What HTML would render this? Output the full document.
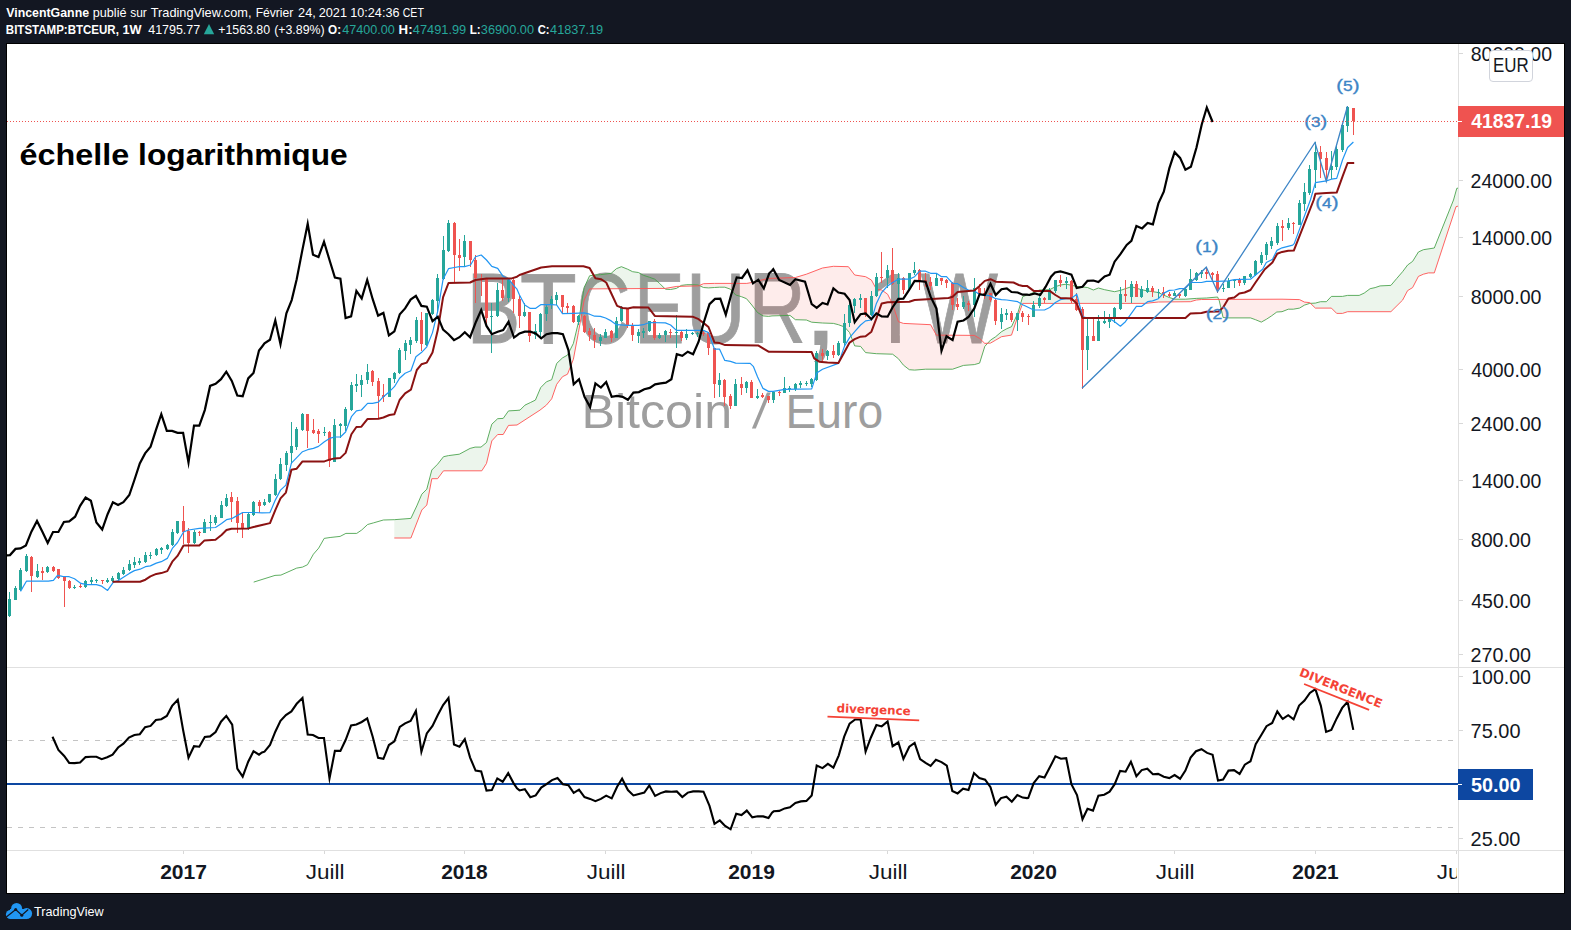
<!DOCTYPE html>
<html lang="fr"><head><meta charset="utf-8"><title>BTCEUR 1W</title>
<style>
html,body{margin:0;padding:0;background:#131722;}
body{width:1571px;height:930px;overflow:hidden;position:relative;font-family:'Liberation Sans', sans-serif;}
svg{position:absolute;left:0;top:0;display:block;}
text{font-family:'Liberation Sans', sans-serif;}
.dv{font-family:'DejaVu Sans','Liberation Sans',sans-serif;font-weight:bold;}
</style></head><body>
<svg width="1571" height="930" viewBox="0 0 1571 930">
<rect x="0" y="0" width="1571" height="930" fill="#131722"/>
<rect x="6" y="43" width="1559" height="851" fill="#000"/>
<rect x="7" y="44" width="1557" height="849" fill="#fff"/>
<!-- header -->
<text transform="translate(6.22,16.80) scale(0.9888,1.0000)" font-size="12.5" font-weight="bold" fill="#fff">VincentGanne </text><text transform="translate(92.78,16.80) scale(1.0125,1.0000)" font-size="12.5" fill="#fff">publié </text><text transform="translate(130.17,16.80) scale(0.9578,1.0000)" font-size="12.5" fill="#fff">sur </text><text transform="translate(150.71,16.80) scale(1.0220,1.0000)" font-size="12.5" fill="#fff">TradingView.com, </text><text transform="translate(255.71,16.80) scale(0.9666,1.0000)" font-size="12.5" fill="#fff">Février </text><text transform="translate(298.06,16.80) scale(1.0176,1.0000)" font-size="12.5" fill="#fff">24, </text><text transform="translate(318.66,16.80) scale(1.0200,1.0000)" font-size="12.5" fill="#fff">2021 </text><text transform="translate(350.34,16.80) scale(1.0094,1.0000)" font-size="12.5" fill="#fff">10:24:36 </text><text transform="translate(402.76,16.80) scale(0.8431,1.0000)" font-size="12.5" fill="#fff">CET </text><text transform="translate(5.83,34.00) scale(0.9218,1.0000)" font-size="12.5" font-weight="bold" fill="#fff">BITSTAMP:BTCEUR, </text><text transform="translate(122.40,34.00) scale(1.0195,1.0000)" font-size="12.5" font-weight="bold" fill="#fff">1W </text><text transform="translate(148.21,34.00) scale(0.9976,1.0000)" font-size="12.5" fill="#fff">41795.77 </text><polygon points="203.8,34.2 214.2,34.2 209,24" fill="#26a69a"/><text transform="translate(218.30,34.00) scale(0.9886,1.0000)" font-size="12.5" fill="#fff">+1563.80 </text><text transform="translate(274.13,34.00) scale(0.9895,1.0000)" font-size="12.5" fill="#fff">(+3.89%) </text><text transform="translate(328.12,34.00) scale(0.9367,1.0000)" font-size="12.5" font-weight="bold" fill="#fff">O: </text><text transform="translate(342.31,34.00) scale(1.0085,1.0000)" font-size="12.5" fill="#26a69a">47400.00 </text><text transform="translate(398.62,34.00) scale(1.0582,1.0000)" font-size="12.5" font-weight="bold" fill="#fff">H: </text><text transform="translate(412.81,34.00) scale(1.0242,1.0000)" font-size="12.5" fill="#26a69a">47491.99 </text><text transform="translate(469.72,34.00) scale(0.9324,1.0000)" font-size="12.5" font-weight="bold" fill="#fff">L: </text><text transform="translate(480.81,34.00) scale(1.0220,1.0000)" font-size="12.5" fill="#26a69a">36900.00 </text><text transform="translate(537.74,34.00) scale(0.8976,1.0000)" font-size="12.5" font-weight="bold" fill="#fff">C: </text><text transform="translate(550.11,34.00) scale(1.0184,1.0000)" font-size="12.5" fill="#26a69a">41837.19 </text>
<defs>
<clipPath id="c1"><path d="M870,260 H906 V334.01 H899.90 V350 H891.03 V334.01 H870 Z"/></clipPath><clipPath id="mp"><rect x="7" y="44" width="1451" height="623"/></clipPath>
<clipPath id="rp"><rect x="7" y="668" width="1451" height="182"/></clipPath>
</defs>
<!-- main pane -->
<g clip-path="url(#mp)">
<text transform="translate(466.46,342.60) scale(0.8139,1.0000)" font-size="99.5" fill="#9e9e9e" stroke="#9e9e9e" stroke-width="0.8">B</text><text transform="translate(519.80,342.60) scale(0.9403,1.0000)" font-size="99.5" fill="#9e9e9e" stroke="#9e9e9e" stroke-width="0.8">T</text><text transform="translate(576.82,342.60) scale(0.7475,1.0000)" font-size="99.5" fill="#9e9e9e" stroke="#9e9e9e" stroke-width="0.8">C</text><text transform="translate(634.08,342.60) scale(0.7621,1.0000)" font-size="99.5" fill="#9e9e9e" stroke="#9e9e9e" stroke-width="0.8">E</text><text transform="translate(685.69,342.60) scale(0.8354,1.0000)" font-size="99.5" fill="#9e9e9e" stroke="#9e9e9e" stroke-width="0.8">U</text><text transform="translate(748.59,342.60) scale(0.7972,1.0000)" font-size="99.5" fill="#9e9e9e" stroke="#9e9e9e" stroke-width="0.8">R</text><text transform="translate(801.63,344.81) scale(1.3722,1.3351)" font-size="99.5" fill="#9e9e9e">, </text><g clip-path="url(#c1)"><text transform="translate(866.01,342.6) scale(1.0000,1)" font-size="99.5" fill="#9e9e9e">1</text></g><text transform="translate(920.84,342.60) scale(0.8225,1.0000)" font-size="99.5" fill="#9e9e9e" stroke="#9e9e9e" stroke-width="0.8">W</text>
<text transform="translate(581.48,427.80) scale(1.0238,1.0000)" font-size="49" fill="#9e9e9e">Bitcoin </text><text transform="translate(751.9,427.8) skewX(-8.20)" font-size="49" fill="#9e9e9e">/ </text><text transform="translate(785.51,427.80) scale(0.9433,1.0000)" font-size="49" fill="#9e9e9e">Euro</text>
<polygon points="394.3,519.7 410.9,518.4 416.8,505.9 421.8,494.2 426.8,489.2 431.8,470.0 437.6,464.2 437.6,464.2 443.5,456.7 443.5,456.7 448.5,455.6 459.3,454.2 470.1,448.4 475.1,447.1 481.0,447.1 481.8,446.4 486.5,442.5 491.8,424.2 497.7,418.7 503.2,418.4 508.5,410.9 517.0,410.4 520.0,410.1 525.0,405.1 530.3,402.6 535.4,400.1 540.0,389.2 540.7,387.6 546.4,381.8 551.7,379.7 556.7,363.4 562.5,357.9 567.5,355.1 573.4,343.4 578.4,322.5 584.2,287.5 589.6,275.8 594.6,275.0 600.4,274.7 611.2,273.3 616.4,268.7 621.4,266.7 627.6,269.2 632.6,271.7 638.4,272.5 643.4,275.3 649.3,277.2 654.8,279.2 659.6,283.4 664.6,288.4 664.6,288.4 659.6,288.4 654.8,288.4 649.3,288.5 643.4,288.5 638.4,288.5 632.6,288.6 627.6,288.6 621.4,288.6 616.4,288.7 611.2,288.7 600.4,288.8 594.6,288.8 589.6,288.9 584.2,300.0 578.4,332.6 573.4,359.2 567.5,374.2 562.5,376.7 556.7,384.3 551.7,398.8 546.4,405.1 540.7,409.6 540.0,410.1 535.4,413.1 530.3,416.4 525.0,419.8 520.0,423.1 517.0,425.0 508.5,425.4 503.2,434.5 497.7,434.5 491.8,440.9 486.5,463.4 481.8,470.8 481.0,470.8 475.1,470.8 470.1,470.8 459.3,470.8 448.5,470.8 443.5,470.8 443.5,470.8 437.6,478.7 437.6,478.7 431.8,478.7 426.8,505.0 421.8,510.0 416.8,523.0 410.9,538.0 394.3,538.0" fill="rgba(67,160,71,0.10)"/>
<polygon points="664.6,288.4 665.4,289.2 670.6,289.5 676.4,288.4 676.8,288.2 679.9,286.3 679.9,286.3 676.8,286.4 676.4,286.4 670.6,287.4 665.4,288.4 664.6,288.4" fill="rgba(244,67,54,0.10)"/>
<polygon points="679.9,286.3 681.4,285.4 686.8,284.7 692.6,284.7 698.1,285.0 698.5,285.2 699.2,285.5 699.2,285.5 698.5,285.9 698.1,285.9 692.6,286.0 686.8,286.1 681.4,286.2 679.9,286.3" fill="rgba(67,160,71,0.10)"/>
<polygon points="699.2,285.5 703.5,287.5 708.5,287.9 714.5,287.5 719.6,287.2 724.8,287.2 730.5,289.2 735.7,295.0 741.5,296.7 746.5,298.7 746.8,299.1 751.8,305.0 757.5,312.5 763.0,315.9 768.5,316.4 772.0,315.9 790.0,315.4 795.4,319.7 806.4,320.0 811.7,322.2 822.5,323.0 833.4,323.4 838.4,324.7 844.6,327.0 848.4,331.3 849.6,332.6 854.7,345.9 860.6,346.4 865.6,352.6 871.4,353.2 876.4,353.7 881.7,353.9 887.6,354.1 892.6,354.2 898.4,358.7 903.4,365.1 909.3,369.7 914.6,370.1 925.6,369.2 930.6,369.2 936.4,369.2 952.6,369.2 963.5,365.4 974.3,364.6 979.6,363.1 984.8,346.4 987.6,343.2 987.6,343.2 984.8,343.4 979.6,338.4 974.3,335.4 963.5,335.3 952.6,335.2 936.4,335.1 930.6,324.7 925.6,324.5 914.6,323.9 909.3,323.7 903.4,323.4 898.4,321.7 892.6,304.2 887.6,294.2 881.7,290.0 876.4,289.2 871.4,280.0 865.6,276.7 860.6,275.9 854.7,275.0 849.6,268.2 848.4,266.7 844.6,266.6 838.4,266.5 833.4,266.3 822.5,268.0 811.7,272.1 806.4,274.2 795.4,277.5 790.0,277.7 772.0,278.3 768.5,278.3 763.0,279.7 757.5,280.9 751.8,282.5 746.8,283.4 746.5,283.4 741.5,283.4 735.7,283.4 730.5,283.4 724.8,283.4 719.6,283.4 714.5,283.4 708.5,283.5 703.5,283.7 699.2,285.5" fill="rgba(244,67,54,0.10)"/>
<polygon points="987.6,343.2 990.5,340.1 995.7,336.7 1001.5,331.7 1006.8,328.7 1011.5,326.7 1017.7,313.4 1022.7,296.7 1027.0,295.0 1028.3,294.7 1039.5,290.0 1049.7,289.7 1055.4,286.7 1060.4,285.0 1066.2,284.2 1076.7,286.4 1087.5,287.5 1093.4,290.0 1098.4,288.0 1104.6,289.7 1114.6,291.7 1120.4,290.4 1131.4,286.7 1141.4,289.7 1145.1,290.4 1147.6,290.9 1152.6,291.7 1158.4,292.5 1163.4,295.0 1169.3,297.5 1174.6,299.2 1185.4,299.2 1190.4,298.8 1196.3,298.4 1201.5,298.2 1206.5,298.0 1217.6,297.0 1218.7,299.5 1218.7,299.5 1217.6,299.5 1206.5,299.5 1201.5,299.5 1196.3,300.0 1190.4,301.7 1185.4,301.8 1174.6,301.9 1169.3,301.9 1163.4,302.0 1158.4,302.0 1152.6,302.6 1147.6,303.1 1145.1,303.4 1141.4,303.4 1131.4,303.4 1120.4,303.4 1114.6,303.4 1104.6,303.4 1098.4,303.4 1093.4,303.4 1087.5,303.4 1076.7,303.4 1066.2,303.4 1060.4,303.4 1055.4,303.4 1049.7,303.4 1039.5,303.4 1028.3,303.4 1027.0,303.4 1022.7,303.4 1017.7,316.7 1011.5,335.1 1006.8,335.8 1001.5,336.7 995.7,340.1 990.5,343.1 987.6,343.2" fill="rgba(67,160,71,0.10)"/>
<polygon points="1218.7,299.5 1219.3,300.9 1223.1,317.5 1228.5,317.9 1250.5,317.9 1255.5,319.7 1261.3,322.1 1266.5,319.2 1271.5,315.9 1276.8,312.0 1282.0,311.7 1288.3,309.2 1293.3,309.2 1299.5,308.1 1304.5,305.1 1309.7,303.4 1310.5,303.4 1310.5,303.4 1309.7,302.6 1304.5,302.1 1299.5,299.6 1293.3,299.4 1288.3,299.3 1282.0,299.2 1276.8,299.2 1271.5,299.2 1266.5,299.3 1261.3,299.3 1255.5,299.3 1250.5,299.3 1228.5,299.4 1223.1,299.4 1219.3,299.5 1218.7,299.5" fill="rgba(244,67,54,0.10)"/>
<polygon points="1310.5,303.4 1315.4,303.1 1320.5,301.7 1326.4,301.7 1331.4,296.4 1336.7,296.4 1342.5,296.4 1347.6,295.4 1359.2,295.4 1364.2,293.1 1370.1,288.7 1375.1,287.6 1380.1,285.9 1390.9,285.4 1396.8,278.4 1402.6,271.7 1407.6,265.0 1412.6,261.4 1418.4,252.0 1423.4,249.7 1428.4,248.9 1434.3,248.0 1453.5,200.0 1456.0,191.2 1456.8,188.3 1459.1,188.0 1459.1,205.8 1456.8,206.5 1456.0,206.7 1453.5,214.3 1434.3,272.9 1428.4,272.9 1423.4,274.2 1418.4,276.4 1412.6,287.6 1407.6,290.6 1402.6,300.1 1396.8,305.9 1390.9,311.7 1380.1,311.7 1375.1,311.7 1370.1,311.7 1364.2,311.7 1359.2,311.7 1347.6,311.7 1342.5,313.4 1336.7,313.4 1331.4,308.1 1326.4,308.1 1320.5,308.1 1315.4,308.1 1310.5,303.4" fill="rgba(67,160,71,0.10)"/>
<polyline points="253.7,582.1 275.0,575.4 280.9,575.1 296.7,568.1 302.5,567.1 307.5,564.7 313.4,554.2 318.7,548.1 324.2,538.4 330.1,537.5 340.1,536.4 345.9,533.4 356.7,533.4 361.7,530.0 367.6,524.5 373.4,522.9 383.4,520.0 394.3,519.7 410.9,518.4 416.8,505.9 421.8,494.2 426.8,489.2 431.8,470.0 437.6,464.2 443.5,456.7 448.5,455.6 459.3,454.2 470.1,448.4 475.1,447.1 481.0,447.1 486.5,442.5 491.8,424.2 497.7,418.7 503.2,418.4 508.5,410.9 517.0,410.4 520.0,410.1 525.0,405.1 530.3,402.6 535.4,400.1 540.7,387.6 546.4,381.8 551.7,379.7 556.7,363.4 562.5,357.9 567.5,355.1 573.4,343.4 578.4,322.5 584.2,287.5 589.6,275.8 594.6,275.0 600.4,274.7 611.2,273.3 616.4,268.7 621.4,266.7 627.6,269.2 632.6,271.7 638.4,272.5 643.4,275.3 649.3,277.2 654.8,279.2 659.6,283.4 665.4,289.2 670.6,289.5 676.4,288.4 681.4,285.4 686.8,284.7 692.6,284.7 698.1,285.0 703.5,287.5 708.5,287.9 714.5,287.5 719.6,287.2 724.8,287.2 730.5,289.2 735.7,295.0 741.5,296.7 746.5,298.7 751.8,305.0 757.5,312.5 763.0,315.9 768.5,316.4 772.0,315.9 790.0,315.4 795.4,319.7 806.4,320.0 811.7,322.2 822.5,323.0 833.4,323.4 838.4,324.7 844.6,327.0 849.6,332.6 854.7,345.9 860.6,346.4 865.6,352.6 876.4,353.7 892.6,354.2 898.4,358.7 903.4,365.1 909.3,369.7 914.6,370.1 925.6,369.2 952.6,369.2 963.5,365.4 974.3,364.6 979.6,363.1 984.8,346.4 990.5,340.1 995.7,336.7 1001.5,331.7 1006.8,328.7 1011.5,326.7 1017.7,313.4 1022.7,296.7 1027.0,295.0 1028.3,294.7 1039.5,290.0 1049.7,289.7 1055.4,286.7 1060.4,285.0 1066.2,284.2 1076.7,286.4 1087.5,287.5 1093.4,290.0 1098.4,288.0 1104.6,289.7 1114.6,291.7 1120.4,290.4 1131.4,286.7 1141.4,289.7 1147.6,290.9 1152.6,291.7 1158.4,292.5 1163.4,295.0 1169.3,297.5 1174.6,299.2 1185.4,299.2 1196.3,298.4 1206.5,298.0 1217.6,297.0 1219.3,300.9 1223.1,317.5 1228.5,317.9 1250.5,317.9 1255.5,319.7 1261.3,322.1 1266.5,319.2 1271.5,315.9 1276.8,312.0 1282.0,311.7 1288.3,309.2 1293.3,309.2 1299.5,308.1 1304.5,305.1 1309.7,303.4 1315.4,303.1 1320.5,301.7 1326.4,301.7 1331.4,296.4 1342.5,296.4 1347.6,295.4 1359.2,295.4 1364.2,293.1 1370.1,288.7 1375.1,287.6 1380.1,285.9 1390.9,285.4 1396.8,278.4 1402.6,271.7 1407.6,265.0 1412.6,261.4 1418.4,252.0 1423.4,249.7 1434.3,248.0 1453.5,200.0 1456.8,188.3 1459.1,188.0" fill="none" stroke="#43a047" stroke-width="1" stroke-opacity="0.85"/>
<polyline points="394.3,538.0 410.9,538.0 421.8,510.0 426.8,505.0 431.8,478.7 437.6,478.7 443.5,470.8 481.8,470.8 486.5,463.4 491.8,440.9 497.7,434.5 503.2,434.5 508.5,425.4 517.0,425.0 540.0,410.1 546.4,405.1 551.7,398.8 556.7,384.3 562.5,376.7 567.5,374.2 573.4,359.2 578.4,332.6 584.2,300.0 589.6,288.9 665.4,288.4 676.8,286.4 698.5,285.9 703.5,283.7 714.5,283.4 746.8,283.4 751.8,282.5 757.5,280.9 763.0,279.7 768.5,278.3 772.0,278.3 795.4,277.5 806.4,274.2 822.5,268.0 833.4,266.3 848.4,266.7 854.7,275.0 865.6,276.7 871.4,280.0 876.4,289.2 881.7,290.0 887.6,294.2 892.6,304.2 898.4,321.7 903.4,323.4 930.6,324.7 936.4,335.1 974.3,335.4 979.6,338.4 984.8,343.4 990.5,343.1 995.7,340.1 1001.5,336.7 1011.5,335.1 1017.7,316.7 1022.7,303.4 1027.0,303.4 1145.1,303.4 1158.4,302.0 1190.4,301.7 1196.3,300.0 1201.5,299.5 1282.0,299.2 1299.5,299.6 1304.5,302.1 1309.7,302.6 1315.4,308.1 1331.4,308.1 1336.7,313.4 1342.5,313.4 1347.6,311.7 1390.9,311.7 1402.6,300.1 1407.6,290.6 1412.6,287.6 1418.4,276.4 1423.4,274.2 1428.4,272.9 1434.3,272.9 1456.0,206.7 1459.1,205.8" fill="none" stroke="#ff5252" stroke-width="1" stroke-opacity="0.9"/>
<g shape-rendering="crispEdges">
<rect x="9" y="592.1" width="1" height="24.7" fill="#26a69a"/><rect x="8" y="599" width="3" height="17" fill="#26a69a"/>
<rect x="15" y="586.2" width="1" height="13.5" fill="#26a69a"/><rect x="14" y="588" width="3" height="12" fill="#26a69a"/>
<rect x="20" y="568.1" width="1" height="23.3" fill="#26a69a"/><rect x="19" y="570" width="3" height="20" fill="#26a69a"/>
<rect x="26" y="553.9" width="1" height="17.8" fill="#26a69a"/><rect x="25" y="556" width="3" height="15" fill="#26a69a"/>
<rect x="31" y="555.9" width="1" height="35.9" fill="#ef5350"/><rect x="30" y="557" width="3" height="19" fill="#ef5350"/>
<rect x="37" y="564.2" width="1" height="13.7" fill="#26a69a"/><rect x="36" y="571" width="3" height="6" fill="#26a69a"/>
<rect x="42" y="567.1" width="1" height="12.7" fill="#ef5350"/><rect x="41" y="571" width="3" height="2" fill="#ef5350"/>
<rect x="47" y="565.9" width="1" height="6.8" fill="#26a69a"/><rect x="46" y="567" width="3" height="5" fill="#26a69a"/>
<rect x="53" y="565.9" width="1" height="5.8" fill="#ef5350"/><rect x="52" y="567" width="3" height="4" fill="#ef5350"/>
<rect x="58" y="568.9" width="1" height="9.8" fill="#ef5350"/><rect x="57" y="569" width="3" height="9" fill="#ef5350"/>
<rect x="64" y="575.9" width="1" height="30.9" fill="#ef5350"/><rect x="63" y="577" width="3" height="4" fill="#ef5350"/>
<rect x="69" y="579.7" width="1" height="9.2" fill="#ef5350"/><rect x="68" y="581" width="3" height="7" fill="#ef5350"/>
<rect x="74" y="585.1" width="1" height="4.2" fill="#26a69a"/><rect x="73" y="587" width="3" height="1" fill="#26a69a"/>
<rect x="80" y="583.7" width="1" height="4.3" fill="#ef5350"/><rect x="79" y="586" width="3" height="1" fill="#ef5350"/>
<rect x="85" y="580.1" width="1" height="7.8" fill="#26a69a"/><rect x="84" y="581" width="3" height="6" fill="#26a69a"/>
<rect x="91" y="577.1" width="1" height="8.3" fill="#26a69a"/><rect x="90" y="580" width="3" height="2" fill="#26a69a"/>
<rect x="96" y="578.7" width="1" height="3.8" fill="#26a69a"/><rect x="95" y="580" width="3" height="1" fill="#26a69a"/>
<rect x="102" y="580.1" width="1" height="3.7" fill="#ef5350"/><rect x="101" y="580" width="3" height="1" fill="#ef5350"/>
<rect x="107" y="578.1" width="1" height="4.5" fill="#26a69a"/><rect x="106" y="580" width="3" height="2" fill="#26a69a"/>
<rect x="112" y="576.2" width="1" height="5.5" fill="#26a69a"/><rect x="111" y="578" width="3" height="3" fill="#26a69a"/>
<rect x="118" y="572.1" width="1" height="7.5" fill="#26a69a"/><rect x="117" y="573" width="3" height="6" fill="#26a69a"/>
<rect x="123" y="567.2" width="1" height="8.2" fill="#26a69a"/><rect x="122" y="570" width="3" height="4" fill="#26a69a"/>
<rect x="129" y="560.1" width="1" height="10.8" fill="#26a69a"/><rect x="128" y="564" width="3" height="6" fill="#26a69a"/>
<rect x="134" y="557.1" width="1" height="11.3" fill="#26a69a"/><rect x="133" y="562" width="3" height="3" fill="#26a69a"/>
<rect x="139" y="558.4" width="1" height="6.3" fill="#26a69a"/><rect x="138" y="561" width="3" height="2" fill="#26a69a"/>
<rect x="145" y="552.2" width="1" height="10.5" fill="#26a69a"/><rect x="144" y="555" width="3" height="7" fill="#26a69a"/>
<rect x="150" y="552.2" width="1" height="6.5" fill="#26a69a"/><rect x="149" y="555" width="3" height="1" fill="#26a69a"/>
<rect x="156" y="548.0" width="1" height="7.8" fill="#26a69a"/><rect x="155" y="549" width="3" height="6" fill="#26a69a"/>
<rect x="161" y="547.0" width="1" height="6.7" fill="#26a69a"/><rect x="160" y="548" width="3" height="2" fill="#26a69a"/>
<rect x="167" y="543.9" width="1" height="5.8" fill="#26a69a"/><rect x="166" y="545" width="3" height="4" fill="#26a69a"/>
<rect x="172" y="529.2" width="1" height="16.7" fill="#26a69a"/><rect x="171" y="532" width="3" height="13" fill="#26a69a"/>
<rect x="177" y="520.9" width="1" height="12.8" fill="#26a69a"/><rect x="176" y="521" width="3" height="12" fill="#26a69a"/>
<rect x="183" y="506.2" width="1" height="38.0" fill="#ef5350"/><rect x="182" y="521" width="3" height="11" fill="#ef5350"/>
<rect x="188" y="528.4" width="1" height="24.2" fill="#ef5350"/><rect x="187" y="531" width="3" height="12" fill="#ef5350"/>
<rect x="194" y="529.7" width="1" height="14.0" fill="#26a69a"/><rect x="193" y="532" width="3" height="11" fill="#26a69a"/>
<rect x="199" y="530.9" width="1" height="5.0" fill="#ef5350"/><rect x="198" y="532" width="3" height="1" fill="#ef5350"/>
<rect x="204" y="519.2" width="1" height="13.8" fill="#26a69a"/><rect x="203" y="522" width="3" height="11" fill="#26a69a"/>
<rect x="210" y="515.4" width="1" height="16.0" fill="#26a69a"/><rect x="209" y="522" width="3" height="1" fill="#26a69a"/>
<rect x="215" y="515.0" width="1" height="9.7" fill="#26a69a"/><rect x="214" y="517" width="3" height="6" fill="#26a69a"/>
<rect x="221" y="501.3" width="1" height="16.7" fill="#26a69a"/><rect x="220" y="505" width="3" height="13" fill="#26a69a"/>
<rect x="226" y="494.2" width="1" height="12.5" fill="#26a69a"/><rect x="225" y="498" width="3" height="8" fill="#26a69a"/>
<rect x="231" y="492.0" width="1" height="29.7" fill="#ef5350"/><rect x="230" y="497" width="3" height="5" fill="#ef5350"/>
<rect x="237" y="497.2" width="1" height="35.4" fill="#ef5350"/><rect x="236" y="501" width="3" height="22" fill="#ef5350"/>
<rect x="242" y="512.5" width="1" height="25.0" fill="#ef5350"/><rect x="241" y="523" width="3" height="6" fill="#ef5350"/>
<rect x="248" y="512.5" width="1" height="17.2" fill="#26a69a"/><rect x="247" y="514" width="3" height="15" fill="#26a69a"/>
<rect x="253" y="501.2" width="1" height="14.7" fill="#26a69a"/><rect x="252" y="502" width="3" height="13" fill="#26a69a"/>
<rect x="259" y="500.0" width="1" height="12.5" fill="#ef5350"/><rect x="258" y="502" width="3" height="4" fill="#ef5350"/>
<rect x="264" y="499.3" width="1" height="6.7" fill="#26a69a"/><rect x="263" y="502" width="3" height="3" fill="#26a69a"/>
<rect x="269" y="493.9" width="1" height="8.7" fill="#26a69a"/><rect x="268" y="494" width="3" height="8" fill="#26a69a"/>
<rect x="275" y="474.2" width="1" height="21.7" fill="#26a69a"/><rect x="274" y="479" width="3" height="16" fill="#26a69a"/>
<rect x="280" y="458.1" width="1" height="21.7" fill="#26a69a"/><rect x="279" y="464" width="3" height="15" fill="#26a69a"/>
<rect x="286" y="450.9" width="1" height="19.7" fill="#26a69a"/><rect x="285" y="453" width="3" height="12" fill="#26a69a"/>
<rect x="291" y="422.0" width="1" height="41.9" fill="#26a69a"/><rect x="290" y="446" width="3" height="7" fill="#26a69a"/>
<rect x="296" y="427.0" width="1" height="22.7" fill="#26a69a"/><rect x="295" y="429" width="3" height="18" fill="#26a69a"/>
<rect x="302" y="413.0" width="1" height="17.8" fill="#26a69a"/><rect x="301" y="414" width="3" height="16" fill="#26a69a"/>
<rect x="307" y="413.9" width="1" height="34.2" fill="#ef5350"/><rect x="306" y="414" width="3" height="17" fill="#ef5350"/>
<rect x="313" y="419.2" width="1" height="15.0" fill="#ef5350"/><rect x="312" y="430" width="3" height="3" fill="#ef5350"/>
<rect x="318" y="429.2" width="1" height="13.7" fill="#ef5350"/><rect x="317" y="431" width="3" height="3" fill="#ef5350"/>
<rect x="324" y="427.0" width="1" height="8.8" fill="#26a69a"/><rect x="323" y="432" width="3" height="1" fill="#26a69a"/>
<rect x="329" y="431.2" width="1" height="35.5" fill="#ef5350"/><rect x="328" y="432" width="3" height="29" fill="#ef5350"/>
<rect x="334" y="419.2" width="1" height="42.9" fill="#26a69a"/><rect x="333" y="425" width="3" height="37" fill="#26a69a"/>
<rect x="340" y="423.0" width="1" height="14.5" fill="#26a69a"/><rect x="339" y="424" width="3" height="2" fill="#26a69a"/>
<rect x="345" y="407.0" width="1" height="23.8" fill="#26a69a"/><rect x="344" y="409" width="3" height="17" fill="#26a69a"/>
<rect x="351" y="382.0" width="1" height="28.9" fill="#26a69a"/><rect x="350" y="385" width="3" height="25" fill="#26a69a"/>
<rect x="356" y="374.2" width="1" height="17.5" fill="#26a69a"/><rect x="355" y="384" width="3" height="2" fill="#26a69a"/>
<rect x="361" y="374.7" width="1" height="22.0" fill="#26a69a"/><rect x="360" y="380" width="3" height="5" fill="#26a69a"/>
<rect x="367" y="364.0" width="1" height="19.7" fill="#26a69a"/><rect x="366" y="372" width="3" height="8" fill="#26a69a"/>
<rect x="372" y="370.3" width="1" height="15.5" fill="#ef5350"/><rect x="371" y="371" width="3" height="11" fill="#ef5350"/>
<rect x="378" y="377.8" width="1" height="41.4" fill="#ef5350"/><rect x="377" y="381" width="3" height="15" fill="#ef5350"/>
<rect x="383" y="384.2" width="1" height="17.5" fill="#ef5350"/><rect x="382" y="395" width="3" height="2" fill="#ef5350"/>
<rect x="389" y="377.8" width="1" height="19.2" fill="#26a69a"/><rect x="388" y="378" width="3" height="19" fill="#26a69a"/>
<rect x="394" y="372.0" width="1" height="10.5" fill="#26a69a"/><rect x="393" y="373" width="3" height="6" fill="#26a69a"/>
<rect x="399" y="347.6" width="1" height="25.9" fill="#26a69a"/><rect x="398" y="350" width="3" height="23" fill="#26a69a"/>
<rect x="405" y="340.4" width="1" height="19.7" fill="#26a69a"/><rect x="404" y="343" width="3" height="8" fill="#26a69a"/>
<rect x="410" y="337.2" width="1" height="17.0" fill="#26a69a"/><rect x="409" y="340" width="3" height="5" fill="#26a69a"/>
<rect x="416" y="316.7" width="1" height="25.9" fill="#26a69a"/><rect x="415" y="320" width="3" height="21" fill="#26a69a"/>
<rect x="421" y="312.2" width="1" height="39.2" fill="#ef5350"/><rect x="420" y="320" width="3" height="24" fill="#ef5350"/>
<rect x="426" y="313.1" width="1" height="32.4" fill="#26a69a"/><rect x="425" y="313" width="3" height="32" fill="#26a69a"/>
<rect x="432" y="299.2" width="1" height="15.8" fill="#26a69a"/><rect x="431" y="300" width="3" height="14" fill="#26a69a"/>
<rect x="437" y="274.2" width="1" height="39.2" fill="#26a69a"/><rect x="436" y="278" width="3" height="23" fill="#26a69a"/>
<rect x="443" y="236.3" width="1" height="43.4" fill="#26a69a"/><rect x="442" y="250" width="3" height="29" fill="#26a69a"/>
<rect x="448" y="220.0" width="1" height="31.7" fill="#26a69a"/><rect x="447" y="223" width="3" height="28" fill="#26a69a"/>
<rect x="454" y="222.0" width="1" height="59.7" fill="#ef5350"/><rect x="453" y="223" width="3" height="32" fill="#ef5350"/>
<rect x="459" y="239.2" width="1" height="31.7" fill="#ef5350"/><rect x="458" y="255" width="3" height="3" fill="#ef5350"/>
<rect x="464" y="235.0" width="1" height="31.7" fill="#26a69a"/><rect x="463" y="241" width="3" height="16" fill="#26a69a"/>
<rect x="470" y="240.9" width="1" height="25.9" fill="#ef5350"/><rect x="469" y="241" width="3" height="19" fill="#ef5350"/>
<rect x="475" y="255.0" width="1" height="47.5" fill="#ef5350"/><rect x="474" y="260" width="3" height="18" fill="#ef5350"/>
<rect x="481" y="274.2" width="1" height="21.7" fill="#ef5350"/><rect x="480" y="278" width="3" height="1" fill="#ef5350"/>
<rect x="486" y="278.4" width="1" height="47.5" fill="#ef5350"/><rect x="485" y="279" width="3" height="39" fill="#ef5350"/>
<rect x="491" y="303.4" width="1" height="49.2" fill="#26a69a"/><rect x="490" y="316" width="3" height="1" fill="#26a69a"/>
<rect x="497" y="282.5" width="1" height="34.2" fill="#26a69a"/><rect x="496" y="290" width="3" height="26" fill="#26a69a"/>
<rect x="502" y="277.5" width="1" height="23.3" fill="#ef5350"/><rect x="501" y="290" width="3" height="8" fill="#ef5350"/>
<rect x="508" y="278.4" width="1" height="23.3" fill="#26a69a"/><rect x="507" y="280" width="3" height="18" fill="#26a69a"/>
<rect x="513" y="277.5" width="1" height="35.9" fill="#ef5350"/><rect x="512" y="280" width="3" height="19" fill="#ef5350"/>
<rect x="519" y="295.0" width="1" height="32.5" fill="#ef5350"/><rect x="518" y="299" width="3" height="17" fill="#ef5350"/>
<rect x="524" y="303.4" width="1" height="13.7" fill="#26a69a"/><rect x="523" y="312" width="3" height="4" fill="#26a69a"/>
<rect x="529" y="312.2" width="1" height="29.5" fill="#ef5350"/><rect x="528" y="312" width="3" height="24" fill="#ef5350"/>
<rect x="535" y="324.2" width="1" height="15.0" fill="#26a69a"/><rect x="534" y="331" width="3" height="4" fill="#26a69a"/>
<rect x="540" y="313.0" width="1" height="25.4" fill="#26a69a"/><rect x="539" y="314" width="3" height="18" fill="#26a69a"/>
<rect x="546" y="305.0" width="1" height="16.3" fill="#26a69a"/><rect x="545" y="307" width="3" height="7" fill="#26a69a"/>
<rect x="551" y="296.4" width="1" height="12.3" fill="#26a69a"/><rect x="550" y="299" width="3" height="6" fill="#26a69a"/>
<rect x="556" y="292.0" width="1" height="13.0" fill="#26a69a"/><rect x="555" y="295" width="3" height="5" fill="#26a69a"/>
<rect x="562" y="295.0" width="1" height="18.3" fill="#ef5350"/><rect x="561" y="295" width="3" height="12" fill="#ef5350"/>
<rect x="567" y="303.4" width="1" height="10.8" fill="#ef5350"/><rect x="566" y="306" width="3" height="2" fill="#ef5350"/>
<rect x="573" y="304.7" width="1" height="18.7" fill="#ef5350"/><rect x="572" y="306" width="3" height="16" fill="#ef5350"/>
<rect x="578" y="315.0" width="1" height="10.0" fill="#26a69a"/><rect x="577" y="316" width="3" height="6" fill="#26a69a"/>
<rect x="584" y="315.0" width="1" height="17.5" fill="#ef5350"/><rect x="583" y="316" width="3" height="16" fill="#ef5350"/>
<rect x="589" y="328.0" width="1" height="13.3" fill="#ef5350"/><rect x="588" y="331" width="3" height="4" fill="#ef5350"/>
<rect x="594" y="328.4" width="1" height="20.0" fill="#ef5350"/><rect x="593" y="335" width="3" height="5" fill="#ef5350"/>
<rect x="600" y="334.2" width="1" height="12.2" fill="#26a69a"/><rect x="599" y="337" width="3" height="4" fill="#26a69a"/>
<rect x="605" y="329.2" width="1" height="9.2" fill="#26a69a"/><rect x="604" y="332" width="3" height="6" fill="#26a69a"/>
<rect x="611" y="330.1" width="1" height="11.7" fill="#ef5350"/><rect x="610" y="331" width="3" height="7" fill="#ef5350"/>
<rect x="616" y="317.0" width="1" height="20.8" fill="#26a69a"/><rect x="615" y="321" width="3" height="17" fill="#26a69a"/>
<rect x="621" y="305.9" width="1" height="15.8" fill="#26a69a"/><rect x="620" y="308" width="3" height="13" fill="#26a69a"/>
<rect x="627" y="307.5" width="1" height="20.0" fill="#ef5350"/><rect x="626" y="308" width="3" height="18" fill="#ef5350"/>
<rect x="632" y="323.0" width="1" height="17.5" fill="#ef5350"/><rect x="631" y="325" width="3" height="10" fill="#ef5350"/>
<rect x="638" y="329.2" width="1" height="13.3" fill="#26a69a"/><rect x="637" y="332" width="3" height="4" fill="#26a69a"/>
<rect x="643" y="327.5" width="1" height="10.8" fill="#26a69a"/><rect x="642" y="331" width="3" height="2" fill="#26a69a"/>
<rect x="649" y="320.9" width="1" height="10.8" fill="#26a69a"/><rect x="648" y="321" width="3" height="10" fill="#26a69a"/>
<rect x="654" y="318.9" width="1" height="20.7" fill="#ef5350"/><rect x="653" y="321" width="3" height="17" fill="#ef5350"/>
<rect x="659" y="333.1" width="1" height="6.2" fill="#26a69a"/><rect x="658" y="335" width="3" height="3" fill="#26a69a"/>
<rect x="665" y="330.1" width="1" height="11.7" fill="#26a69a"/><rect x="664" y="331" width="3" height="4" fill="#26a69a"/>
<rect x="670" y="329.2" width="1" height="9.2" fill="#ef5350"/><rect x="669" y="332" width="3" height="1" fill="#ef5350"/>
<rect x="676" y="315.0" width="1" height="32.5" fill="#26a69a"/><rect x="675" y="332" width="3" height="1" fill="#26a69a"/>
<rect x="681" y="330.1" width="1" height="10.8" fill="#ef5350"/><rect x="680" y="332" width="3" height="6" fill="#ef5350"/>
<rect x="686" y="329.2" width="1" height="10.8" fill="#26a69a"/><rect x="685" y="334" width="3" height="4" fill="#26a69a"/>
<rect x="692" y="331.7" width="1" height="3.0" fill="#26a69a"/><rect x="691" y="333" width="3" height="1" fill="#26a69a"/>
<rect x="697" y="331.7" width="1" height="5.0" fill="#26a69a"/><rect x="696" y="333" width="3" height="1" fill="#26a69a"/>
<rect x="703" y="330.9" width="1" height="5.0" fill="#ef5350"/><rect x="702" y="333" width="3" height="1" fill="#ef5350"/>
<rect x="708" y="331.7" width="1" height="23.0" fill="#ef5350"/><rect x="707" y="333" width="3" height="15" fill="#ef5350"/>
<rect x="714" y="348.4" width="1" height="50.0" fill="#ef5350"/><rect x="713" y="348" width="3" height="36" fill="#ef5350"/>
<rect x="719" y="372.6" width="1" height="24.2" fill="#26a69a"/><rect x="718" y="380" width="3" height="5" fill="#26a69a"/>
<rect x="724" y="379.2" width="1" height="27.2" fill="#ef5350"/><rect x="723" y="380" width="3" height="17" fill="#ef5350"/>
<rect x="730" y="394.3" width="1" height="14.2" fill="#ef5350"/><rect x="729" y="396" width="3" height="10" fill="#ef5350"/>
<rect x="735" y="379.2" width="1" height="27.2" fill="#26a69a"/><rect x="734" y="384" width="3" height="22" fill="#26a69a"/>
<rect x="741" y="377.2" width="1" height="18.2" fill="#ef5350"/><rect x="740" y="384" width="3" height="4" fill="#ef5350"/>
<rect x="746" y="381.4" width="1" height="12.0" fill="#26a69a"/><rect x="745" y="382" width="3" height="6" fill="#26a69a"/>
<rect x="751" y="380.1" width="1" height="18.3" fill="#ef5350"/><rect x="750" y="382" width="3" height="16" fill="#ef5350"/>
<rect x="757" y="389.3" width="1" height="9.5" fill="#26a69a"/><rect x="756" y="396" width="3" height="2" fill="#26a69a"/>
<rect x="762" y="392.6" width="1" height="5.5" fill="#ef5350"/><rect x="761" y="395" width="3" height="2" fill="#ef5350"/>
<rect x="768" y="395.9" width="1" height="6.7" fill="#ef5350"/><rect x="767" y="396" width="3" height="4" fill="#ef5350"/>
<rect x="773" y="390.9" width="1" height="11.7" fill="#26a69a"/><rect x="772" y="392" width="3" height="8" fill="#26a69a"/>
<rect x="779" y="390.9" width="1" height="5.0" fill="#ef5350"/><rect x="778" y="392" width="3" height="1" fill="#ef5350"/>
<rect x="784" y="377.1" width="1" height="16.0" fill="#26a69a"/><rect x="783" y="388" width="3" height="5" fill="#26a69a"/>
<rect x="789" y="385.9" width="1" height="6.2" fill="#26a69a"/><rect x="788" y="388" width="3" height="1" fill="#26a69a"/>
<rect x="795" y="382.6" width="1" height="8.8" fill="#26a69a"/><rect x="794" y="384" width="3" height="5" fill="#26a69a"/>
<rect x="800" y="380.9" width="1" height="7.5" fill="#26a69a"/><rect x="799" y="383" width="3" height="2" fill="#26a69a"/>
<rect x="806" y="381.3" width="1" height="4.7" fill="#26a69a"/><rect x="805" y="383" width="3" height="1" fill="#26a69a"/>
<rect x="811" y="377.9" width="1" height="8.8" fill="#26a69a"/><rect x="810" y="379" width="3" height="5" fill="#26a69a"/>
<rect x="816" y="351.4" width="1" height="29.5" fill="#26a69a"/><rect x="815" y="353" width="3" height="27" fill="#26a69a"/>
<rect x="822" y="349.2" width="1" height="11.7" fill="#ef5350"/><rect x="821" y="353" width="3" height="3" fill="#ef5350"/>
<rect x="827" y="350.1" width="1" height="9.7" fill="#26a69a"/><rect x="826" y="351" width="3" height="5" fill="#26a69a"/>
<rect x="833" y="345.1" width="1" height="12.5" fill="#ef5350"/><rect x="832" y="351" width="3" height="4" fill="#ef5350"/>
<rect x="838" y="341.2" width="1" height="14.7" fill="#26a69a"/><rect x="837" y="343" width="3" height="12" fill="#26a69a"/>
<rect x="844" y="314.2" width="1" height="32.5" fill="#26a69a"/><rect x="843" y="323" width="3" height="20" fill="#26a69a"/>
<rect x="849" y="303.4" width="1" height="23.3" fill="#26a69a"/><rect x="848" y="305" width="3" height="18" fill="#26a69a"/>
<rect x="854" y="297.5" width="1" height="15.0" fill="#26a69a"/><rect x="853" y="299" width="3" height="7" fill="#26a69a"/>
<rect x="860" y="294.2" width="1" height="13.3" fill="#26a69a"/><rect x="859" y="298" width="3" height="2" fill="#26a69a"/>
<rect x="865" y="298.0" width="1" height="18.7" fill="#ef5350"/><rect x="864" y="298" width="3" height="17" fill="#ef5350"/>
<rect x="871" y="290.9" width="1" height="25.0" fill="#26a69a"/><rect x="870" y="296" width="3" height="19" fill="#26a69a"/>
<rect x="876" y="272.8" width="1" height="23.8" fill="#26a69a"/><rect x="875" y="277" width="3" height="19" fill="#26a69a"/>
<rect x="881" y="251.7" width="1" height="31.7" fill="#ef5350"/><rect x="880" y="277" width="3" height="1" fill="#ef5350"/>
<rect x="887" y="265.0" width="1" height="23.3" fill="#26a69a"/><rect x="886" y="270" width="3" height="8" fill="#26a69a"/>
<rect x="892" y="248.3" width="1" height="36.7" fill="#ef5350"/><rect x="891" y="270" width="3" height="14" fill="#ef5350"/>
<rect x="898" y="273.3" width="1" height="24.2" fill="#26a69a"/><rect x="897" y="278" width="3" height="6" fill="#26a69a"/>
<rect x="903" y="277.2" width="1" height="16.5" fill="#ef5350"/><rect x="902" y="278" width="3" height="12" fill="#ef5350"/>
<rect x="909" y="273.3" width="1" height="16.7" fill="#26a69a"/><rect x="908" y="273" width="3" height="16" fill="#26a69a"/>
<rect x="914" y="262.0" width="1" height="13.0" fill="#26a69a"/><rect x="913" y="270" width="3" height="3" fill="#26a69a"/>
<rect x="919" y="269.2" width="1" height="20.5" fill="#ef5350"/><rect x="918" y="270" width="3" height="11" fill="#ef5350"/>
<rect x="925" y="273.3" width="1" height="13.3" fill="#ef5350"/><rect x="924" y="280" width="3" height="3" fill="#ef5350"/>
<rect x="930" y="277.2" width="1" height="13.2" fill="#ef5350"/><rect x="929" y="282" width="3" height="4" fill="#ef5350"/>
<rect x="936" y="273.3" width="1" height="12.5" fill="#26a69a"/><rect x="935" y="278" width="3" height="8" fill="#26a69a"/>
<rect x="941" y="277.5" width="1" height="7.2" fill="#ef5350"/><rect x="940" y="278" width="3" height="3" fill="#ef5350"/>
<rect x="946" y="278.8" width="1" height="8.7" fill="#ef5350"/><rect x="945" y="280" width="3" height="3" fill="#ef5350"/>
<rect x="952" y="282.0" width="1" height="27.7" fill="#ef5350"/><rect x="951" y="283" width="3" height="22" fill="#ef5350"/>
<rect x="957" y="298.4" width="1" height="11.3" fill="#ef5350"/><rect x="956" y="304" width="3" height="3" fill="#ef5350"/>
<rect x="963" y="295.9" width="1" height="13.3" fill="#26a69a"/><rect x="962" y="302" width="3" height="5" fill="#26a69a"/>
<rect x="968" y="300.9" width="1" height="10.0" fill="#ef5350"/><rect x="967" y="303" width="3" height="2" fill="#ef5350"/>
<rect x="974" y="278.3" width="1" height="38.4" fill="#26a69a"/><rect x="973" y="288" width="3" height="17" fill="#26a69a"/>
<rect x="979" y="284.2" width="1" height="11.7" fill="#ef5350"/><rect x="978" y="288" width="3" height="6" fill="#ef5350"/>
<rect x="984" y="288.4" width="1" height="10.3" fill="#ef5350"/><rect x="983" y="293" width="3" height="1" fill="#ef5350"/>
<rect x="990" y="292.5" width="1" height="9.2" fill="#ef5350"/><rect x="989" y="293" width="3" height="7" fill="#ef5350"/>
<rect x="995" y="299.2" width="1" height="25.5" fill="#ef5350"/><rect x="994" y="300" width="3" height="21" fill="#ef5350"/>
<rect x="1001" y="308.0" width="1" height="20.7" fill="#26a69a"/><rect x="1000" y="314" width="3" height="8" fill="#26a69a"/>
<rect x="1006" y="309.2" width="1" height="10.5" fill="#26a69a"/><rect x="1005" y="313" width="3" height="2" fill="#26a69a"/>
<rect x="1011" y="311.4" width="1" height="10.3" fill="#ef5350"/><rect x="1010" y="313" width="3" height="7" fill="#ef5350"/>
<rect x="1017" y="313.4" width="1" height="17.5" fill="#26a69a"/><rect x="1016" y="313" width="3" height="7" fill="#26a69a"/>
<rect x="1022" y="310.9" width="1" height="10.8" fill="#ef5350"/><rect x="1021" y="313" width="3" height="4" fill="#ef5350"/>
<rect x="1028" y="314.2" width="1" height="10.5" fill="#ef5350"/><rect x="1027" y="316" width="3" height="1" fill="#ef5350"/>
<rect x="1033" y="301.4" width="1" height="15.7" fill="#26a69a"/><rect x="1032" y="305" width="3" height="12" fill="#26a69a"/>
<rect x="1039" y="292.5" width="1" height="15.0" fill="#26a69a"/><rect x="1038" y="298" width="3" height="8" fill="#26a69a"/>
<rect x="1044" y="296.7" width="1" height="6.7" fill="#ef5350"/><rect x="1043" y="298" width="3" height="2" fill="#ef5350"/>
<rect x="1049" y="287.5" width="1" height="12.5" fill="#26a69a"/><rect x="1048" y="290" width="3" height="10" fill="#26a69a"/>
<rect x="1055" y="279.7" width="1" height="13.7" fill="#26a69a"/><rect x="1054" y="280" width="3" height="11" fill="#26a69a"/>
<rect x="1060" y="275.0" width="1" height="11.7" fill="#ef5350"/><rect x="1059" y="280" width="3" height="3" fill="#ef5350"/>
<rect x="1066" y="277.2" width="1" height="11.5" fill="#26a69a"/><rect x="1065" y="281" width="3" height="2" fill="#26a69a"/>
<rect x="1071" y="280.0" width="1" height="22.5" fill="#ef5350"/><rect x="1070" y="281" width="3" height="20" fill="#ef5350"/>
<rect x="1076" y="293.4" width="1" height="17.5" fill="#ef5350"/><rect x="1075" y="299" width="3" height="11" fill="#ef5350"/>
<rect x="1082" y="307.0" width="1" height="82.2" fill="#ef5350"/><rect x="1081" y="309" width="3" height="41" fill="#ef5350"/>
<rect x="1087" y="318.4" width="1" height="51.4" fill="#26a69a"/><rect x="1086" y="336" width="3" height="14" fill="#26a69a"/>
<rect x="1093" y="318.4" width="1" height="22.5" fill="#ef5350"/><rect x="1092" y="336" width="3" height="5" fill="#ef5350"/>
<rect x="1098" y="315.0" width="1" height="25.9" fill="#26a69a"/><rect x="1097" y="321" width="3" height="20" fill="#26a69a"/>
<rect x="1104" y="311.2" width="1" height="13.0" fill="#26a69a"/><rect x="1103" y="321" width="3" height="2" fill="#26a69a"/>
<rect x="1109" y="314.2" width="1" height="13.3" fill="#26a69a"/><rect x="1108" y="317" width="3" height="5" fill="#26a69a"/>
<rect x="1114" y="306.7" width="1" height="15.8" fill="#26a69a"/><rect x="1113" y="308" width="3" height="10" fill="#26a69a"/>
<rect x="1120" y="287.2" width="1" height="22.5" fill="#26a69a"/><rect x="1119" y="294" width="3" height="15" fill="#26a69a"/>
<rect x="1125" y="280.0" width="1" height="21.7" fill="#ef5350"/><rect x="1124" y="294" width="3" height="2" fill="#ef5350"/>
<rect x="1131" y="280.9" width="1" height="21.7" fill="#26a69a"/><rect x="1130" y="284" width="3" height="13" fill="#26a69a"/>
<rect x="1136" y="280.9" width="1" height="16.2" fill="#ef5350"/><rect x="1135" y="284" width="3" height="13" fill="#ef5350"/>
<rect x="1141" y="285.9" width="1" height="12.2" fill="#26a69a"/><rect x="1140" y="289" width="3" height="8" fill="#26a69a"/>
<rect x="1147" y="280.0" width="1" height="12.8" fill="#26a69a"/><rect x="1146" y="288" width="3" height="4" fill="#26a69a"/>
<rect x="1152" y="285.5" width="1" height="11.2" fill="#ef5350"/><rect x="1151" y="288" width="3" height="4" fill="#ef5350"/>
<rect x="1158" y="289.2" width="1" height="8.8" fill="#26a69a"/><rect x="1157" y="292" width="3" height="1" fill="#26a69a"/>
<rect x="1163" y="287.0" width="1" height="11.0" fill="#ef5350"/><rect x="1162" y="292" width="3" height="3" fill="#ef5350"/>
<rect x="1169" y="291.7" width="1" height="5.5" fill="#ef5350"/><rect x="1168" y="294" width="3" height="2" fill="#ef5350"/>
<rect x="1174" y="291.4" width="1" height="4.5" fill="#26a69a"/><rect x="1173" y="293" width="3" height="3" fill="#26a69a"/>
<rect x="1179" y="293.0" width="1" height="5.0" fill="#ef5350"/><rect x="1178" y="294" width="3" height="2" fill="#ef5350"/>
<rect x="1185" y="287.5" width="1" height="9.2" fill="#26a69a"/><rect x="1184" y="289" width="3" height="7" fill="#26a69a"/>
<rect x="1190" y="269.2" width="1" height="20.8" fill="#26a69a"/><rect x="1189" y="279" width="3" height="11" fill="#26a69a"/>
<rect x="1196" y="271.7" width="1" height="9.2" fill="#26a69a"/><rect x="1195" y="273" width="3" height="7" fill="#26a69a"/>
<rect x="1201" y="270.0" width="1" height="8.3" fill="#26a69a"/><rect x="1200" y="272" width="3" height="2" fill="#26a69a"/>
<rect x="1206" y="267.2" width="1" height="12.0" fill="#ef5350"/><rect x="1205" y="272" width="3" height="2" fill="#ef5350"/>
<rect x="1212" y="271.7" width="1" height="8.3" fill="#ef5350"/><rect x="1211" y="273" width="3" height="2" fill="#ef5350"/>
<rect x="1217" y="270.9" width="1" height="22.2" fill="#ef5350"/><rect x="1216" y="274" width="3" height="15" fill="#ef5350"/>
<rect x="1223" y="284.2" width="1" height="7.5" fill="#26a69a"/><rect x="1222" y="288" width="3" height="1" fill="#26a69a"/>
<rect x="1228" y="278.4" width="1" height="9.7" fill="#26a69a"/><rect x="1227" y="281" width="3" height="7" fill="#26a69a"/>
<rect x="1234" y="279.2" width="1" height="8.3" fill="#26a69a"/><rect x="1233" y="280" width="3" height="1" fill="#26a69a"/>
<rect x="1239" y="278.4" width="1" height="7.8" fill="#ef5350"/><rect x="1238" y="280" width="3" height="3" fill="#ef5350"/>
<rect x="1244" y="275.9" width="1" height="9.2" fill="#26a69a"/><rect x="1243" y="276" width="3" height="7" fill="#26a69a"/>
<rect x="1250" y="273.0" width="1" height="4.5" fill="#26a69a"/><rect x="1249" y="274" width="3" height="3" fill="#26a69a"/>
<rect x="1255" y="259.7" width="1" height="15.8" fill="#26a69a"/><rect x="1254" y="261" width="3" height="14" fill="#26a69a"/>
<rect x="1261" y="252.0" width="1" height="13.0" fill="#26a69a"/><rect x="1260" y="255" width="3" height="8" fill="#26a69a"/>
<rect x="1266" y="241.7" width="1" height="18.0" fill="#26a69a"/><rect x="1265" y="244" width="3" height="11" fill="#26a69a"/>
<rect x="1271" y="237.1" width="1" height="11.8" fill="#26a69a"/><rect x="1270" y="241" width="3" height="5" fill="#26a69a"/>
<rect x="1277" y="222.6" width="1" height="22.5" fill="#26a69a"/><rect x="1276" y="226" width="3" height="17" fill="#26a69a"/>
<rect x="1282" y="220.1" width="1" height="20.8" fill="#ef5350"/><rect x="1281" y="226" width="3" height="2" fill="#ef5350"/>
<rect x="1288" y="218.1" width="1" height="11.7" fill="#26a69a"/><rect x="1287" y="223" width="3" height="5" fill="#26a69a"/>
<rect x="1293" y="221.8" width="1" height="11.7" fill="#ef5350"/><rect x="1292" y="223" width="3" height="1" fill="#ef5350"/>
<rect x="1299" y="199.7" width="1" height="25.7" fill="#26a69a"/><rect x="1298" y="203" width="3" height="22" fill="#26a69a"/>
<rect x="1304" y="183.1" width="1" height="27.4" fill="#26a69a"/><rect x="1303" y="192" width="3" height="12" fill="#26a69a"/>
<rect x="1309" y="165.1" width="1" height="29.7" fill="#26a69a"/><rect x="1308" y="169" width="3" height="24" fill="#26a69a"/>
<rect x="1315" y="142.0" width="1" height="46.4" fill="#26a69a"/><rect x="1314" y="152" width="3" height="18" fill="#26a69a"/>
<rect x="1320" y="145.9" width="1" height="32.0" fill="#ef5350"/><rect x="1319" y="152" width="3" height="7" fill="#ef5350"/>
<rect x="1326" y="152.0" width="1" height="29.4" fill="#ef5350"/><rect x="1325" y="158" width="3" height="12" fill="#ef5350"/>
<rect x="1331" y="150.9" width="1" height="28.4" fill="#26a69a"/><rect x="1330" y="166" width="3" height="4" fill="#26a69a"/>
<rect x="1336" y="145.0" width="1" height="24.7" fill="#26a69a"/><rect x="1335" y="149" width="3" height="18" fill="#26a69a"/>
<rect x="1342" y="124.2" width="1" height="27.9" fill="#26a69a"/><rect x="1341" y="125" width="3" height="25" fill="#26a69a"/>
<rect x="1347" y="105.8" width="1" height="25.9" fill="#26a69a"/><rect x="1346" y="107" width="3" height="19" fill="#26a69a"/>
<rect x="1353" y="107.5" width="1" height="27.2" fill="#ef5350"/><rect x="1352" y="108" width="3" height="13" fill="#ef5350"/>
</g>
<polyline points="20.5,591.4 26.4,581.2 48.4,581.2 53.4,580.4 57.5,575.4 62.5,576.4 69.2,576.7 74.5,578.7 80.9,583.4 86.7,584.6 96.4,584.7 101.7,586.2 107.6,590.4 113.4,582.1 118.4,580.6 123.4,577.2 129.3,573.4 134.4,570.6 140.1,569.2 145.4,566.7 150.4,565.9 156.3,563.1 161.3,561.7 167.3,558.4 172.3,548.4 177.5,542.5 183.5,532.0 188.5,530.0 199.3,528.4 215.5,527.5 221.5,523.4 226.5,519.7 231.5,518.7 237.5,515.4 242.7,512.5 253.5,512.5 262.0,512.9 270.0,512.6 275.3,500.1 280.5,490.1 285.9,485.1 291.4,463.1 296.7,457.6 302.5,451.7 307.7,449.7 313.4,448.4 318.5,446.4 324.4,441.7 329.5,438.4 334.6,437.0 340.4,437.0 345.6,432.0 351.4,416.7 356.4,410.9 361.4,410.0 367.6,403.4 372.6,403.4 378.4,402.2 383.4,396.7 389.4,391.7 394.4,386.7 399.6,378.3 405.1,373.3 410.9,370.8 415.9,356.8 421.4,352.6 426.8,346.8 432.5,332.6 437.8,310.9 443.1,279.2 448.5,268.7 454.3,267.5 459.5,266.7 464.6,266.7 470.5,265.0 475.5,256.7 481.2,255.0 486.5,260.0 491.8,266.4 497.7,268.4 502.7,275.9 508.5,279.2 514.0,285.9 517.0,289.2 519.5,295.0 524.8,305.0 530.3,308.4 535.4,308.4 540.7,304.7 551.7,304.7 556.7,305.0 562.5,313.7 573.4,313.4 584.2,312.9 589.6,314.2 594.6,316.2 600.4,316.4 605.6,318.0 611.2,320.9 616.4,324.7 627.6,325.4 638.4,325.4 643.4,324.7 649.3,322.5 665.4,322.9 670.6,325.0 676.4,330.4 703.5,330.4 708.5,332.6 714.5,349.2 719.6,349.2 724.8,360.4 730.5,361.4 735.7,363.1 750.2,363.4 753.5,366.7 757.5,376.7 763.0,388.4 768.5,391.4 772.0,391.4 773.3,391.4 784.7,389.3 811.7,388.9 816.7,373.1 822.5,369.2 838.4,363.4 844.6,345.9 849.6,337.6 854.7,331.7 860.6,325.0 865.6,320.9 871.4,320.0 876.4,303.4 881.7,292.5 887.6,285.9 892.6,282.5 898.4,279.2 909.3,279.2 914.6,276.7 919.6,271.2 925.6,271.2 930.6,273.3 936.4,273.3 941.5,276.7 946.5,276.7 952.6,283.4 957.6,283.7 963.5,287.5 968.5,290.0 974.3,290.9 979.6,294.5 990.5,295.9 995.7,298.7 1001.5,299.7 1006.8,300.0 1017.7,301.7 1022.7,304.7 1027.0,306.7 1033.7,310.0 1044.5,310.0 1049.7,307.5 1055.4,302.5 1060.4,299.7 1066.2,298.7 1071.4,298.4 1076.7,294.2 1077.5,296.7 1082.5,316.7 1087.5,318.0 1098.4,318.0 1109.6,318.4 1114.6,321.7 1120.4,326.2 1125.4,321.7 1131.4,313.4 1136.4,306.4 1141.4,306.4 1147.6,301.7 1152.6,300.9 1158.4,298.7 1163.4,293.4 1169.3,290.4 1174.6,290.0 1179.6,288.7 1185.4,288.4 1190.4,282.5 1201.5,282.5 1206.5,281.4 1217.6,281.4 1228.5,280.9 1234.3,279.7 1250.5,279.2 1255.5,275.0 1262.6,269.2 1266.3,262.5 1272.4,259.4 1276.9,250.4 1282.1,247.8 1292.7,245.1 1294.2,243.6 1310.4,200.0 1315.4,182.6 1326.4,180.9 1331.4,179.2 1336.7,178.4 1342.5,160.0 1347.6,147.5 1353.4,142.0" fill="none" stroke="#2196f3" stroke-width="1.2" stroke-linejoin="round"/>
<polyline points="112.6,581.7 140.1,581.7 145.4,579.7 150.4,576.4 156.3,573.9 161.3,573.1 167.3,571.1 172.3,561.7 177.5,555.9 183.5,545.5 199.3,545.5 204.5,540.4 215.5,539.7 221.5,535.0 226.5,530.0 231.5,528.7 248.5,528.4 253.5,527.0 262.0,525.0 270.0,523.1 275.3,510.1 280.5,498.4 285.9,492.6 291.4,469.7 296.7,468.7 302.5,461.4 324.4,461.4 329.5,459.6 334.6,458.4 340.4,457.9 345.6,452.9 351.4,434.2 356.4,427.0 361.4,426.7 367.6,418.9 378.4,418.7 383.4,417.5 389.4,415.0 394.4,414.2 399.6,400.0 405.1,393.3 410.9,389.7 416.8,370.0 421.4,364.3 426.8,362.6 432.5,352.6 437.8,330.1 443.1,297.1 448.5,283.0 470.1,282.5 475.5,280.0 481.2,279.2 486.5,278.4 511.8,278.4 517.0,276.7 519.5,275.0 530.3,271.3 541.2,267.5 552.0,266.3 583.4,266.3 589.6,268.0 595.4,278.3 600.9,279.2 606.2,282.5 611.7,294.2 617.1,305.9 622.6,308.0 627.9,308.4 633.4,307.2 648.4,307.5 654.8,315.9 692.6,316.7 698.6,319.2 704.0,323.4 708.5,327.0 714.5,342.6 719.6,343.1 725.1,345.1 758.5,345.6 763.0,348.4 768.5,351.7 772.0,351.7 811.7,352.1 814.2,358.4 819.2,361.7 827.5,362.6 838.4,363.1 844.6,351.7 849.6,342.6 854.7,339.2 860.6,336.7 865.6,336.2 871.4,331.7 876.4,318.4 881.7,303.4 887.6,302.2 909.3,301.7 914.6,300.0 948.5,298.0 952.6,296.7 957.6,292.0 974.3,290.5 979.6,285.9 984.8,280.9 990.5,279.2 995.7,281.7 1013.5,282.5 1018.7,285.0 1022.7,285.9 1027.0,285.9 1033.7,290.9 1049.7,290.9 1055.4,295.0 1060.4,298.0 1071.4,298.4 1076.7,303.4 1082.5,317.9 1185.4,317.9 1190.4,313.4 1201.5,313.0 1206.5,311.7 1218.5,311.4 1223.1,307.5 1228.5,298.4 1234.3,297.5 1239.3,293.4 1244.6,292.5 1250.5,290.0 1255.5,282.5 1261.3,274.2 1264.8,269.2 1272.4,262.5 1277.2,253.8 1282.1,251.9 1288.2,250.8 1293.8,250.6 1313.7,200.0 1315.4,193.7 1326.4,192.9 1336.7,192.6 1342.5,176.7 1347.6,163.0 1354.2,162.9" fill="none" stroke="#8b1212" stroke-width="2" stroke-linejoin="round"/>
<polyline points="6.7,555.4 10.0,555.1 15.5,548.9 20.5,548.4 25.9,545.5 31.4,531.7 37.0,520.9 42.4,531.7 47.7,543.0 53.0,532.0 58.4,532.0 63.9,522.0 69.2,521.4 75.1,516.7 80.1,505.9 85.6,497.5 90.9,500.8 96.4,522.5 102.2,529.5 107.6,514.2 112.9,502.2 118.1,505.0 123.4,502.2 129.3,495.0 134.4,480.0 139.8,463.4 145.1,453.4 150.6,446.7 155.9,430.1 161.3,414.2 166.8,430.9 172.1,430.9 177.6,432.9 183.1,432.9 188.5,462.6 194.0,425.6 199.3,425.6 204.8,410.1 210.1,385.9 215.6,383.9 221.0,379.2 226.3,371.7 231.8,380.9 237.3,395.5 242.7,396.2 248.2,378.4 253.5,373.0 259.0,350.5 262.0,346.7 264.5,343.4 270.0,339.7 275.3,320.4 280.5,344.3 286.4,313.4 291.7,300.1 296.7,279.2 302.2,250.9 307.7,223.7 313.0,254.7 318.5,257.0 324.0,241.7 329.5,260.0 334.9,277.5 340.4,278.7 345.6,318.1 351.1,316.4 356.4,290.9 361.7,298.4 367.2,280.0 372.7,299.2 378.1,315.6 383.4,312.9 388.9,335.4 394.4,331.4 399.8,314.2 405.1,308.4 410.6,299.6 415.9,295.9 421.4,305.9 426.8,306.7 432.5,321.2 437.8,316.7 443.1,329.7 448.5,334.2 454.0,340.1 459.5,337.2 464.8,332.2 470.1,337.2 476.0,321.7 481.2,310.1 486.5,325.9 491.8,334.2 497.7,331.7 503.2,330.1 508.5,321.7 514.0,337.6 517.0,335.4 519.5,333.4 524.8,331.7 530.3,331.7 535.7,333.4 541.2,338.4 546.5,334.2 552.0,333.1 557.5,333.1 562.9,334.2 568.4,350.1 573.7,384.3 579.0,379.2 584.5,396.8 590.1,407.1 595.4,383.4 600.9,387.6 606.2,382.1 611.7,396.8 617.1,395.9 622.6,396.8 627.9,399.8 633.4,392.6 638.9,392.1 644.3,389.3 649.8,387.9 655.1,384.3 660.6,383.4 665.9,382.6 671.4,379.2 676.8,354.2 682.3,355.9 687.8,351.7 693.1,354.2 698.6,341.7 704.0,321.7 709.5,304.2 715.0,298.9 720.3,298.7 725.8,314.7 731.1,295.0 736.7,277.5 742.0,278.0 747.5,270.3 753.0,283.4 758.3,279.7 763.8,288.4 769.2,273.3 772.0,270.8 773.3,269.2 779.2,280.0 790.0,285.0 795.4,279.2 805.0,281.7 811.7,304.2 816.7,307.9 822.5,302.9 827.5,304.5 833.4,288.4 838.4,292.5 844.6,293.7 849.6,300.0 854.7,322.2 860.6,314.2 865.6,313.4 871.4,319.2 876.4,313.4 881.7,316.4 887.6,316.7 892.6,307.2 898.4,298.9 903.4,298.7 909.3,289.7 914.6,280.9 919.6,281.2 925.6,281.7 930.6,296.7 936.4,308.4 941.5,350.9 946.5,336.2 952.6,340.1 957.6,321.7 963.5,320.5 968.5,317.0 974.3,308.4 979.6,294.2 984.8,295.0 990.5,283.7 995.7,295.0 1001.5,289.2 1006.8,288.4 1011.5,292.0 1017.7,292.5 1022.7,294.7 1027.0,294.7 1029.5,295.0 1034.8,293.4 1040.2,295.0 1045.7,286.7 1051.0,276.7 1055.0,272.5 1060.4,271.4 1066.2,273.0 1071.4,274.7 1076.7,288.0 1082.5,286.7 1087.5,280.9 1093.4,280.5 1098.4,282.0 1104.6,276.4 1109.6,274.7 1114.6,261.7 1120.4,254.2 1126.7,245.0 1131.4,240.9 1136.4,225.9 1142.1,228.4 1147.6,222.9 1152.9,224.3 1158.4,203.4 1163.8,191.7 1169.3,168.4 1174.6,152.2 1180.1,157.9 1185.4,169.7 1190.9,166.7 1196.5,147.5 1201.8,124.2 1206.8,107.5 1212.6,122.0" fill="none" stroke="#000" stroke-width="2.2" stroke-linejoin="miter" stroke-miterlimit="10"/>
<polyline points="1082,388.3 1206.3,267.2 1217.5,291.7 1315,142.5 1326.3,181.3 1347.5,106.2" fill="none" stroke="#3d85c6" stroke-width="1.3"/>
<text transform="translate(1195.33,251.80) scale(1.1794,1)" fill="#3d85c6" stroke="#3d85c6" stroke-width="0.35" font-size="17.3">(<tspan font-size="14.7">1</tspan>)</text><text transform="translate(1205.72,318.70) scale(1.1965,1)" fill="#3d85c6" stroke="#3d85c6" stroke-width="0.35" font-size="17.3">(<tspan font-size="14.7">2</tspan>)</text><text transform="translate(1304.25,126.50) scale(1.1680,1)" fill="#3d85c6" stroke="#3d85c6" stroke-width="0.35" font-size="17.3">(<tspan font-size="14.7">3</tspan>)</text><text transform="translate(1315.23,207.60) scale(1.1851,1)" fill="#3d85c6" stroke="#3d85c6" stroke-width="0.35" font-size="17.3">(<tspan font-size="14.7">4</tspan>)</text><text transform="translate(1336.13,90.60) scale(1.1851,1)" fill="#3d85c6" stroke="#3d85c6" stroke-width="0.35" font-size="17.3">(<tspan font-size="14.7">5</tspan>)</text>
<text transform="translate(19.44,165.20) scale(1.0790,1.0000)" font-size="30" font-weight="bold" fill="#000">échelle </text><text transform="translate(138.08,165.20) scale(1.0578,1.0000)" font-size="30" font-weight="bold" fill="#000">logarithmique</text>
<line x1="7" y1="121.5" x2="1458" y2="121.5" stroke="#ef5350" stroke-width="1" stroke-dasharray="1,2" shape-rendering="crispEdges"/>
</g>
<!-- pane separator / axes -->
<rect x="7" y="667" width="1557" height="1" fill="#e0e0e0"/>
<rect x="7" y="850" width="1557" height="1" fill="#e0e0e0"/>
<rect x="1458" y="44" width="1" height="849" fill="#e0e0e0"/>
<rect x="1459" y="53" width="4" height="1" fill="#d8d8d8"/><rect x="1459" y="180" width="4" height="1" fill="#d8d8d8"/><rect x="1459" y="237" width="4" height="1" fill="#d8d8d8"/><rect x="1459" y="296" width="4" height="1" fill="#d8d8d8"/><rect x="1459" y="369" width="4" height="1" fill="#d8d8d8"/><rect x="1459" y="423" width="4" height="1" fill="#d8d8d8"/><rect x="1459" y="480" width="4" height="1" fill="#d8d8d8"/><rect x="1459" y="539" width="4" height="1" fill="#d8d8d8"/><rect x="1459" y="600" width="4" height="1" fill="#d8d8d8"/><rect x="1459" y="654" width="4" height="1" fill="#d8d8d8"/><rect x="1459" y="676" width="4" height="1" fill="#d8d8d8"/><rect x="1459" y="730" width="4" height="1" fill="#d8d8d8"/><rect x="1459" y="838" width="4" height="1" fill="#d8d8d8"/>
<!-- RSI pane -->
<g clip-path="url(#rp)">
<line x1="7" y1="740.5" x2="1458" y2="740.5" stroke="#c4c4c4" stroke-width="1" stroke-dasharray="5,6"/>
<line x1="7" y1="827.5" x2="1458" y2="827.5" stroke="#c4c4c4" stroke-width="1" stroke-dasharray="5,6"/>
<rect x="7" y="783" width="1451" height="2" fill="#0d47a1"/>
<polyline points="52.5,736.7 58.4,750.0 64.2,755.9 69.2,762.9 74.5,763.1 80.1,762.6 85.6,757.1 90.9,756.7 96.4,756.7 101.7,759.2 107.2,757.2 112.6,754.7 118.1,747.5 123.4,743.7 128.9,737.5 134.4,735.0 139.8,734.2 145.1,727.2 150.6,725.9 155.9,720.0 161.3,719.2 166.8,715.9 172.1,705.9 177.8,699.7 183.1,730.0 188.5,757.6 194.0,746.2 199.3,746.7 204.8,737.0 210.1,736.4 215.6,732.0 221.0,721.7 226.3,715.9 232.2,724.7 237.3,768.7 242.7,776.7 248.2,761.7 253.5,751.2 259.0,754.7 262.0,752.5 264.5,751.7 270.0,745.0 275.3,731.7 280.5,720.9 285.9,715.0 291.4,711.4 296.7,703.8 302.5,698.0 307.7,734.5 313.0,735.0 318.5,738.0 324.0,738.0 329.5,778.4 334.9,750.9 340.4,750.9 345.6,740.0 351.1,725.5 356.4,724.5 361.7,722.0 367.2,718.4 372.7,736.7 378.1,757.9 383.4,758.9 388.9,745.0 394.4,741.4 399.8,727.0 405.1,723.4 410.6,720.9 415.9,710.9 421.4,751.7 426.8,733.4 432.5,725.9 437.8,715.0 443.1,705.0 448.5,698.0 454.0,744.5 459.5,746.7 464.8,739.2 470.1,757.6 475.6,770.6 481.2,771.4 486.5,790.6 491.8,790.1 497.3,778.4 502.7,781.7 508.2,773.1 513.5,783.1 517.0,788.4 519.5,790.4 524.8,789.2 530.3,797.2 535.7,795.4 541.2,787.6 546.5,784.2 552.0,780.1 557.5,778.1 562.9,784.2 568.4,785.1 573.7,792.9 579.0,789.7 584.5,797.1 590.1,798.9 595.4,801.2 600.9,798.9 606.2,795.6 611.7,798.4 617.1,786.7 622.1,778.7 627.9,790.1 633.4,795.4 638.9,793.9 644.3,792.6 649.3,785.4 655.1,795.9 660.6,793.1 665.9,791.4 671.4,791.7 676.8,791.4 682.3,797.1 687.8,792.6 693.1,791.4 698.6,791.4 703.5,791.7 709.5,805.9 714.5,823.8 719.8,820.4 725.1,825.9 730.6,829.3 736.2,813.8 741.5,815.1 746.8,810.6 752.3,817.3 757.7,816.3 763.2,816.4 768.5,818.1 772.0,812.6 773.7,811.3 779.2,810.9 784.7,808.4 790.0,807.3 795.4,802.9 800.9,801.4 806.4,800.9 811.7,795.4 816.7,765.6 822.5,768.1 827.9,763.9 833.4,767.6 838.7,755.6 844.2,736.7 849.6,723.7 855.1,719.5 860.6,719.5 865.6,751.7 870.9,737.5 876.4,725.0 881.7,726.4 887.6,721.4 892.6,746.2 898.4,742.5 903.4,758.9 909.3,746.7 914.6,743.0 920.1,759.2 925.6,762.9 930.6,765.9 935.9,759.7 941.5,762.1 946.8,765.6 952.3,790.9 957.6,793.4 963.1,788.7 968.5,790.1 974.0,773.1 979.3,778.1 985.1,779.7 990.5,787.2 995.7,804.7 1001.0,798.1 1006.5,796.7 1011.8,801.7 1017.3,795.1 1022.7,797.6 1027.0,798.1 1028.3,797.9 1033.7,783.1 1039.2,776.2 1044.5,777.6 1050.0,767.1 1055.4,756.4 1060.9,758.7 1066.2,758.1 1071.4,784.2 1077.0,795.1 1082.5,819.3 1087.5,808.8 1093.0,810.6 1098.4,795.6 1104.2,794.7 1109.6,791.7 1114.7,784.2 1120.1,770.9 1125.6,771.7 1130.9,761.7 1136.4,776.2 1141.7,770.1 1147.3,768.7 1152.9,774.2 1158.1,773.9 1163.8,776.7 1169.3,778.1 1174.6,775.1 1180.1,778.7 1185.4,770.6 1190.6,757.6 1196.0,751.2 1201.5,749.2 1207.1,752.9 1212.6,754.7 1218.0,780.6 1223.1,779.6 1228.5,770.6 1234.0,770.1 1239.6,773.9 1244.8,764.7 1250.5,761.2 1255.7,744.2 1261.3,735.0 1266.5,726.2 1272.2,722.9 1277.3,711.4 1282.0,718.0 1282.8,718.8 1288.2,715.2 1293.6,719.4 1299.1,705.6 1304.5,700.6 1309.9,693.0 1315.4,689.1 1320.8,705.6 1326.1,731.9 1331.3,729.9 1336.7,718.4 1342.2,707.9 1347.6,701.8 1353.3,729.9" fill="none" stroke="#000" stroke-width="2.1" stroke-linejoin="miter" stroke-miterlimit="10"/>
<line x1="827.5" y1="716.7" x2="919.2" y2="720.3" stroke="#f44336" stroke-width="1.8"/>
<text class="dv" transform="translate(836.5,712.3) rotate(2.3)" font-size="12" fill="#f44336" textLength="74" lengthAdjust="spacingAndGlyphs">divergence</text>
<line x1="1304.1" y1="684" x2="1369.1" y2="709.8" stroke="#f44336" stroke-width="1.8"/>
<text class="dv" transform="translate(1298.5,675.5) rotate(21.7)" font-size="12" fill="#f44336" textLength="88" lengthAdjust="spacingAndGlyphs">DIVERGENCE</text>
</g>
<!-- price axis labels -->
<text transform="translate(1470.75,61.00) scale(0.9747,1.0000)" font-size="20" fill="#131722">80000.00</text><text transform="translate(1470.62,187.95) scale(0.9763,1.0000)" font-size="20" fill="#131722">24000.00</text><text transform="translate(1471.22,245.30) scale(0.9690,1.0000)" font-size="20" fill="#131722">14000.00</text><text transform="translate(1470.75,303.90) scale(0.9781,1.0000)" font-size="20" fill="#131722">8000.00</text><text transform="translate(1471.15,376.90) scale(0.9725,1.0000)" font-size="20" fill="#131722">4000.00</text><text transform="translate(1470.61,431.00) scale(0.9800,1.0000)" font-size="20" fill="#131722">2400.00</text><text transform="translate(1471.22,488.00) scale(0.9716,1.0000)" font-size="20" fill="#131722">1400.00</text><text transform="translate(1470.74,547.00) scale(0.9845,1.0000)" font-size="20" fill="#131722">800.00</text><text transform="translate(1471.15,608.30) scale(0.9778,1.0000)" font-size="20" fill="#131722">450.00</text><text transform="translate(1470.61,662.10) scale(0.9868,1.0000)" font-size="20" fill="#131722">270.00</text>
<text transform="translate(1471.21,684.20) scale(0.9768,1.0000)" font-size="20" fill="#131722">100.00</text><text transform="translate(1470.58,738.30) scale(0.9971,1.0000)" font-size="20" fill="#131722">75.00</text><text transform="translate(1470.60,846.10) scale(0.9966,1.0000)" font-size="20" fill="#131722">25.00</text>
<rect x="1489.5" y="50.5" width="43" height="31" rx="3.5" fill="#fff" stroke="#d1d4dc"/>
<text transform="translate(1492.91,71.80) scale(0.8780,1.0000)" font-size="19.3" fill="#131722">EUR</text>
<rect x="1458" y="106" width="106" height="31" fill="#ef5350"/>
<rect x="1458" y="121" width="4" height="1" fill="#fff"/>
<text transform="translate(1471.31,128.40) scale(0.9675,1.0000)" font-size="20" font-weight="bold" fill="#fff">41837.19</text>
<rect x="1458" y="769" width="75" height="31" fill="#0d47a1"/>
<rect x="1458" y="784" width="4" height="1" fill="#fff"/>
<text transform="translate(1470.99,791.50) scale(0.9894,1.0000)" font-size="20" font-weight="bold" fill="#fff">50.00</text>
<!-- time axis -->
<rect x="183" y="851" width="1" height="3" fill="#d8d8d8"/><text transform="translate(160.17,879.00) scale(1.0531,1.0000)" font-size="20" font-weight="bold" fill="#131722">2017</text><rect x="324" y="851" width="1" height="3" fill="#d8d8d8"/><text transform="translate(305.70,879.00) scale(1.1249,1.0000)" font-size="20" fill="#131722">Juill</text><rect x="464" y="851" width="1" height="3" fill="#d8d8d8"/><text transform="translate(441.17,879.00) scale(1.0467,1.0000)" font-size="20" font-weight="bold" fill="#131722">2018</text><rect x="605" y="851" width="1" height="3" fill="#d8d8d8"/><text transform="translate(586.70,879.00) scale(1.1249,1.0000)" font-size="20" fill="#131722">Juill</text><rect x="751" y="851" width="1" height="3" fill="#d8d8d8"/><text transform="translate(728.17,879.00) scale(1.0498,1.0000)" font-size="20" font-weight="bold" fill="#131722">2019</text><rect x="887" y="851" width="1" height="3" fill="#d8d8d8"/><text transform="translate(868.70,879.00) scale(1.1249,1.0000)" font-size="20" fill="#131722">Juill</text><rect x="1033" y="851" width="1" height="3" fill="#d8d8d8"/><text transform="translate(1010.17,879.00) scale(1.0517,1.0000)" font-size="20" font-weight="bold" fill="#131722">2020</text><rect x="1174" y="851" width="1" height="3" fill="#d8d8d8"/><text transform="translate(1155.70,879.00) scale(1.1249,1.0000)" font-size="20" fill="#131722">Juill</text><rect x="1315" y="851" width="1" height="3" fill="#d8d8d8"/><text transform="translate(1292.18,879.00) scale(1.0453,1.0000)" font-size="20" font-weight="bold" fill="#131722">2021</text>
<rect x="1456" y="851" width="1" height="3" fill="#d8d8d8"/>
<clipPath id="tlc"><rect x="1400" y="851" width="57" height="42"/></clipPath><g clip-path="url(#tlc)"><text transform="translate(1436.85,879.00) scale(1.1249,1.0000)" font-size="20" fill="#131722">Juill</text></g>
<!-- logo -->
<g fill="#2196f3"><circle cx="10.5" cy="914.5" r="4.6"/><circle cx="16.6" cy="908.5" r="5.5"/><circle cx="26.6" cy="913.55" r="5.5"/><rect x="10" y="909" width="17" height="10.05"/></g>
<polyline points="6.3,917 15.7,909.6 21.8,915.2 28.2,909.6" fill="none" stroke="#131722" stroke-width="1.3"/>
<circle cx="15.7" cy="909.6" r="1.5" fill="#131722"/><circle cx="21.8" cy="915.2" r="1.5" fill="#131722"/>
<text transform="translate(34.12,915.80) scale(1.0126,1.0000)" font-size="12.5" fill="#fff">TradingView</text>
</svg>
</body></html>
